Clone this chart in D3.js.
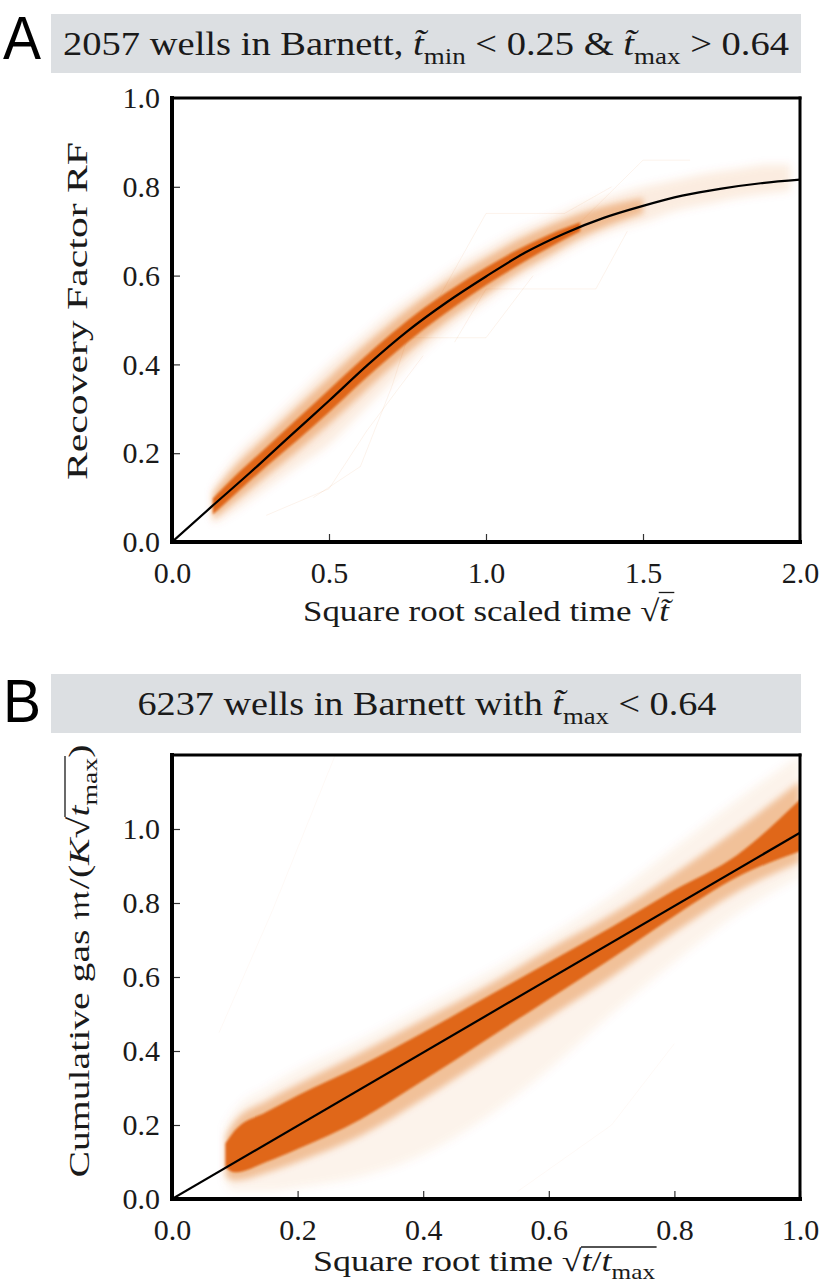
<!DOCTYPE html>
<html><head><meta charset="utf-8">
<script src="https://cdn.jsdelivr.net/npm/d3@7"></script>
<style>body{margin:0;background:#fff} svg{display:block}</style>
</head><body>
<script>
// ---------- Panel A data ----------
const aCurveX = [0, 0.125, 0.25, 0.375, 0.5, 0.625, 0.75, 0.875, 1.0, 1.125, 1.25, 1.375, 1.5, 1.625, 1.75, 1.875, 2.0];
const aCurveY = [0, 0.079, 0.157, 0.238, 0.318, 0.400, 0.475, 0.540, 0.598, 0.652, 0.695, 0.730, 0.757, 0.780, 0.796, 0.808, 0.816];

const aBandX     = [0.13, 0.2, 0.3, 0.4, 0.5, 0.6, 0.7, 0.8, 0.9, 1.0, 1.1, 1.2, 1.3, 1.4, 1.5, 1.6, 1.7, 1.8, 1.9, 1.97];
const aHaloLo    = [0.04, 0.07, 0.12, 0.17, 0.22, 0.29, 0.36, 0.43, 0.49, 0.54, 0.59, 0.63, 0.67, 0.70, 0.72, 0.745, 0.76, 0.775, 0.785, 0.79];
const aHaloHi    = [0.12, 0.19, 0.26, 0.33, 0.40, 0.46, 0.52, 0.57, 0.62, 0.66, 0.70, 0.73, 0.76, 0.78, 0.80, 0.815, 0.83, 0.84, 0.85, 0.85];
const aMidX      = [0.13, 0.2, 0.3, 0.4, 0.5, 0.6, 0.7, 0.8, 0.9, 1.0, 1.1, 1.2, 1.3, 1.4, 1.5];
const aMidLo     = [0.05, 0.09, 0.148, 0.205, 0.265, 0.33, 0.395, 0.455, 0.51, 0.558, 0.605, 0.645, 0.685, 0.715, 0.74];
const aMidHi     = [0.11, 0.17, 0.238, 0.305, 0.37, 0.435, 0.495, 0.55, 0.598, 0.64, 0.68, 0.713, 0.74, 0.76, 0.775];
const aCoreX     = [0.13, 0.2, 0.3, 0.4, 0.5, 0.6, 0.7, 0.8, 0.9, 1.0, 1.1, 1.2, 1.3];
const aCoreLo    = [0.062, 0.107, 0.17, 0.23, 0.292, 0.358, 0.42, 0.478, 0.53, 0.578, 0.622, 0.663, 0.70];
const aCoreHi    = [0.098, 0.148, 0.213, 0.278, 0.343, 0.408, 0.47, 0.526, 0.574, 0.618, 0.658, 0.692, 0.72];
const aStray = [
  [[0.45, 0.10], [0.60, 0.17], [0.70, 0.35], [0.75, 0.46], [1.00, 0.46], [1.15, 0.60]],
  [[0.85, 0.55], [1.00, 0.74], [1.25, 0.74], [1.40, 0.80]],
  [[0.90, 0.45], [1.00, 0.57], [1.35, 0.57], [1.45, 0.70]],
  [[0.30, 0.06], [0.50, 0.12], [0.62, 0.25], [0.80, 0.42]],
  [[1.30, 0.72], [1.50, 0.86], [1.65, 0.86]]
];
const aXTicks = [0, 0.5, 1.0, 1.5, 2.0];
const aYTicks = [0, 0.2, 0.4, 0.6, 0.8, 1.0];

// ---------- Panel B data ----------
const bLineX = [0, 1.0];
const bLineY = [0, 0.99];
const bBandX  = [0.085, 0.1, 0.15, 0.2, 0.3, 0.4, 0.5, 0.6, 0.7, 0.8, 0.9, 1.0];
const bHaloLo = [0.04, 0.02, 0.02, 0.03, 0.06, 0.12, 0.22, 0.35, 0.50, 0.64, 0.77, 0.87];
const bHaloHi = [0.20, 0.24, 0.30, 0.35, 0.43, 0.52, 0.61, 0.71, 0.82, 0.95, 1.08, 1.20];
const bMidLo  = [0.06, 0.05, 0.07, 0.10, 0.17, 0.27, 0.38, 0.49, 0.60, 0.72, 0.83, 0.91];
const bMidHi  = [0.17, 0.21, 0.265, 0.31, 0.395, 0.485, 0.575, 0.675, 0.77, 0.88, 1.00, 1.13];
const bCoreLo = [0.085, 0.072, 0.10, 0.135, 0.215, 0.32, 0.43, 0.54, 0.65, 0.765, 0.87, 0.94];
const bCoreHi = [0.15, 0.185, 0.235, 0.28, 0.36, 0.45, 0.545, 0.64, 0.735, 0.835, 0.93, 1.08];
const bStray = [
  [[0.075, 0.45], [0.16, 0.78], [0.26, 1.20]],
  [[0.55, 0.02], [0.70, 0.20], [0.80, 0.42]]
];
const bXTicks = [0, 0.2, 0.4, 0.6, 0.8, 1.0];
const bYTicks = [0, 0.2, 0.4, 0.6, 0.8, 1.0];

// ---------- drawing ----------
const SERIF = "'Liberation Serif', 'DejaVu Serif', serif";
const ORANGE = "#de600f";
const W = 819, H = 1286;
const svg = d3.select("body").append("svg").attr("width", W).attr("height", H);
const defs = svg.append("defs");
[["blur1", 1.0], ["blur2", 3.0], ["blur3", 4.5]].forEach(([id, s]) => {
  defs.append("filter").attr("id", id).attr("x", "-20%").attr("y", "-20%").attr("width", "140%").attr("height", "140%")
    .append("feGaussianBlur").attr("stdDeviation", s);
});

function rich(parent, x, y, segs, fs, anchor, rotate, len) {
  const g = parent.append("g").attr("transform", `translate(${x},${y})` + (rotate ? ` rotate(${rotate})` : ""));
  const t = g.append("text").attr("text-anchor", anchor || "middle")
    .attr("font-family", SERIF).attr("font-size", fs).attr("fill", "#1a1a1a");
  if (len) t.attr("textLength", len).attr("lengthAdjust", "spacingAndGlyphs");
  let shift = 0;
  const nodes = [];
  segs.forEach(s => {
    const sp = t.append("tspan").text(s.t);
    const target = s.sub ? fs * 0.25 : 0;
    if (target !== shift) { sp.attr("dy", target - shift); shift = target; }
    if (s.sub) sp.attr("font-size", fs * 0.7);
    if (s.it) sp.attr("font-style", "italic");
    if (s.font) sp.attr("font-family", s.font);
    nodes.push({ s, node: sp.node() });
  });
  const rad = nodes.find(n => n.s.rad);
  if (rad) {
    const rb = rad.node.getBBox();
    const ols = nodes.filter(n => n.s.ol);
    const end = d3.max(ols, n => { const b = n.node.getBBox(); return b.x + b.width; });
    const yy = -fs * (rad.s.oly || 0.8);
    g.append("line").attr("x1", rb.x + rb.width - 1.2).attr("x2", end + 1)
      .attr("y1", yy).attr("y2", yy).attr("stroke", "#1a1a1a").attr("stroke-width", 1.3);
  }
  return g;
}

function panel(opts) {
  const { x0, x1, y0, y1, xDom, yDom } = opts;
  const x = d3.scaleLinear().domain(xDom).range([x0, x1]);
  const y = d3.scaleLinear().domain(yDom).range([y0, y1]);
  const g = svg.append("g");
  const cid = "clip" + opts.id;
  defs.append("clipPath").attr("id", cid).append("rect")
    .attr("x", x0).attr("y", y1).attr("width", x1 - x0).attr("height", y0 - y1);
  const plot = g.append("g").attr("clip-path", `url(#${cid})`);

  const area = (xs, lo, hi) => d3.area().curve(d3.curveMonotoneX)
    .x((d, i) => x(xs[i])).y0((d, i) => y(lo[i])).y1((d, i) => y(hi[i]))(xs);
  const bands = plot.append("g");
  bands.append("path").attr("d", area(opts.haloX, opts.haloLo, opts.haloHi))
    .attr("fill", ORANGE).attr("fill-opacity", opts.haloOp).attr("filter", "url(#blur3)");
  bands.append("path").attr("d", area(opts.midX, opts.midLo, opts.midHi))
    .attr("fill", ORANGE).attr("fill-opacity", opts.midOp).attr("filter", "url(#blur2)");
  bands.append("path").attr("d", area(opts.coreX, opts.coreLo, opts.coreHi))
    .attr("fill", ORANGE).attr("fill-opacity", 0.92).attr("filter", "url(#blur1)");

  const ln = d3.line().x(d => x(d[0])).y(d => y(d[1]));
  plot.append("g").selectAll("path").data(opts.stray).join("path")
    .attr("d", ln).attr("fill", "none").attr("stroke", ORANGE).attr("stroke-opacity", opts.strayOp).attr("stroke-width", 0.8);

  plot.append("path")
    .attr("d", d3.line().curve(d3.curveMonotoneX).x((d, i) => x(opts.lineX[i])).y((d, i) => y(opts.lineY[i]))(opts.lineX))
    .attr("fill", "none").attr("stroke", "#000").attr("stroke-width", 2.2);

  // axes (inward ticks)
  const ax = g.append("g").attr("transform", `translate(0,${y0})`)
    .call(d3.axisBottom(x).tickValues(opts.xTicks).tickSize(-8).tickPadding(20).tickFormat(d3.format(".1f")));
  const ay = g.append("g").attr("transform", `translate(${x0},0)`)
    .call(d3.axisLeft(y).tickValues(opts.yTicks).tickSize(-8).tickPadding(12).tickFormat(d3.format(".1f")));
  [ax, ay].forEach(a => {
    a.select(".domain").remove();
    a.selectAll(".tick line").attr("stroke", "#333").attr("stroke-width", 1.2);
    a.selectAll(".tick text").attr("font-family", SERIF).attr("font-size", 30).attr("fill", "#1a1a1a");
  });
  // frame
  const fr = g.append("g").attr("stroke", "#000").attr("stroke-linecap", "square");
  fr.append("line").attr("x1", x0).attr("x2", x1).attr("y1", y1).attr("y2", y1).attr("stroke-width", 3);
  fr.append("line").attr("x1", x1).attr("x2", x1).attr("y1", y1).attr("y2", y0).attr("stroke-width", 3);
  fr.append("line").attr("x1", x0).attr("x2", x0).attr("y1", y1).attr("y2", y0).attr("stroke-width", 4);
  fr.append("line").attr("x1", x0).attr("x2", x1).attr("y1", y0).attr("y2", y0).attr("stroke-width", 4);
  return { x, y };
}

// ----- Panel A -----
svg.append("rect").attr("x", 51).attr("y", 14).attr("width", 750).attr("height", 59).attr("fill", "#dcdfe2");
svg.append("text").attr("transform", "translate(3,59) scale(0.92,1)").attr("font-family", "'Liberation Sans', Arial, sans-serif")
  .attr("font-size", 62).attr("fill", "#000").text("A");
rich(svg, 426, 55, [
  { t: "2057 wells in Barnett, " }, { t: "t\u0303", it: true }, { t: "min", sub: true },
  { t: " < 0.25 & " }, { t: "t\u0303", it: true }, { t: "max", sub: true }, { t: " > 0.64" }
], 34, "middle", 0, 726);

panel({
  id: "A", x0: 172, x1: 800, y0: 542, y1: 98, xDom: [0, 2], yDom: [0, 1],
  haloX: aBandX, haloLo: aHaloLo, haloHi: aHaloHi,
  midX: aMidX, midLo: aMidLo, midHi: aMidHi,
  coreX: aCoreX, coreLo: aCoreLo, coreHi: aCoreHi, haloOp: 0.12, midOp: 0.35, strayOp: 0.1,
  stray: aStray, lineX: aCurveX, lineY: aCurveY, xTicks: aXTicks, yTicks: aYTicks
});
rich(svg, 486, 621, [
  { t: "Square root scaled time " }, { t: "\u221A", rad: true, oly: 0.95 }, { t: "t\u0303", it: true, ol: true }
], 30, "middle", 0, 366);
rich(svg, 87, 311, [{ t: "Recovery Factor RF" }], 30, "middle", -90, 338);

// ----- Panel B -----
svg.append("rect").attr("x", 51).attr("y", 674).attr("width", 750).attr("height", 59).attr("fill", "#dcdfe2");
svg.append("text").attr("transform", "translate(3,722) scale(0.92,1)").attr("font-family", "'Liberation Sans', Arial, sans-serif")
  .attr("font-size", 62).attr("fill", "#000").text("B");
rich(svg, 427, 715, [
  { t: "6237 wells in Barnett with " }, { t: "t\u0303", it: true }, { t: "max", sub: true }, { t: " < 0.64" }
], 34, "middle", 0, 579);

panel({
  id: "B", x0: 172, x1: 800, y0: 1199, y1: 755, xDom: [0, 1], yDom: [0, 1.2],
  haloX: bBandX, haloLo: bHaloLo, haloHi: bHaloHi,
  midX: bBandX, midLo: bMidLo, midHi: bMidHi,
  coreX: bBandX, coreLo: bCoreLo, coreHi: bCoreHi, haloOp: 0.08, midOp: 0.35, strayOp: 0.05,
  stray: bStray, lineX: bLineX, lineY: bLineY, xTicks: bXTicks, yTicks: bYTicks
});
rich(svg, 484, 1271, [
  { t: "Square root time " }, { t: "\u221A", rad: true, oly: 0.8 },
  { t: "t", it: true, ol: true }, { t: "/", ol: true }, { t: "t", it: true, ol: true }, { t: "max", sub: true, ol: true }
], 30, "middle", 0, 342);
rich(svg, 89, 961, [
  { t: "Cumulative gas " }, { t: "\uD835\uDD2A", font: "'DejaVu Serif', 'DejaVu Sans', serif" }, { t: "/(" },
  { t: "K", it: true }, { t: "\u221A", rad: true, oly: 0.8 }, { t: "t", it: true, ol: true }, { t: "max", sub: true, ol: true }, { t: ")" }
], 30, "middle", -90, 433);
</script>
</body></html>
